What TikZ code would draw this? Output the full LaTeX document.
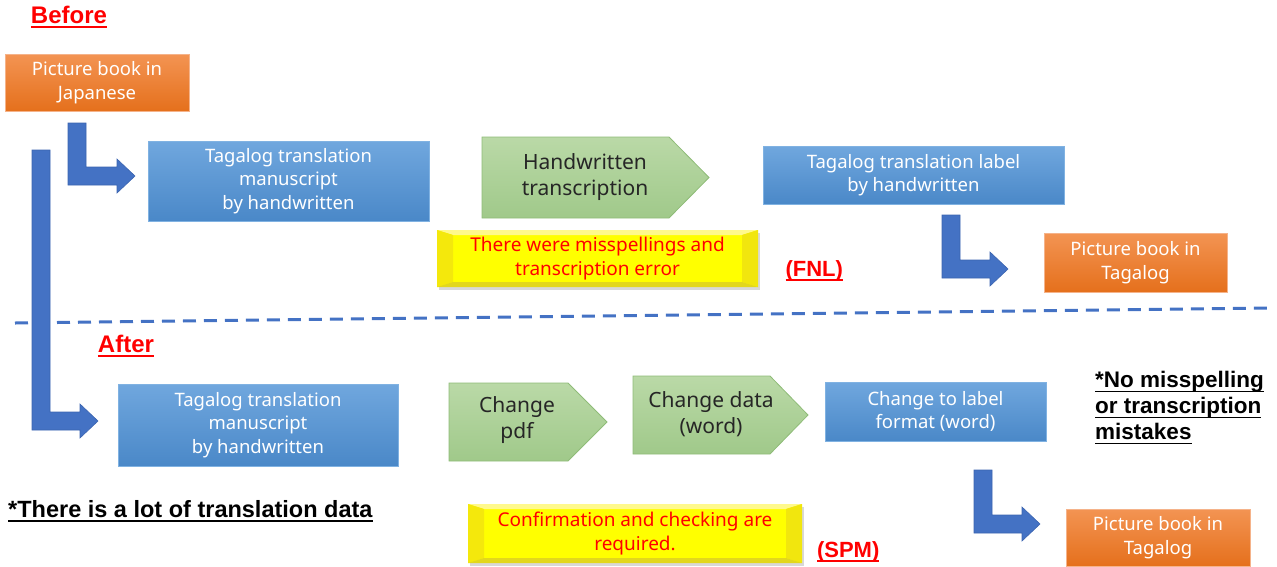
\documentclass[tikz,border=0pt]{standalone}
\usepackage{fontspec}
\setmainfont{Noto Sans}
\newfontfamily\headfont{Liberation Sans}
\usepackage{tikz}
\usetikzlibrary{calc,shadows}

\newcommand{\ulin}[1]{\leavevmode\setbox0\hbox{#1}\rlap{\rule[-4.5pt]{\wd0}{1.5pt}}\box0}

\definecolor{arrowblue}{HTML}{4472C4}
\definecolor{arrowedge}{HTML}{3B64B0}
\definecolor{boxtop}{HTML}{70A7DE}
\definecolor{boxbot}{HTML}{4A88C8}
\definecolor{boxedge}{HTML}{80B2E2}
\definecolor{ortop}{HTML}{F39453}
\definecolor{orbot}{HTML}{E5701C}
\definecolor{oredge}{HTML}{F5B38A}
\definecolor{grtop}{HTML}{BAD9A7}
\definecolor{grbot}{HTML}{A0C98A}
\definecolor{gredge}{HTML}{8FBC78}
\definecolor{warnred}{HTML}{FF0000}
\definecolor{warnfill}{HTML}{FFFF00}

\tikzset{
  bluebox/.style={rectangle, top color=boxtop, bottom color=boxbot, draw=boxedge, line width=0.8pt,
    text=white, font=\fontsize{18.5}{23.5}\selectfont, align=center, inner sep=0pt},
  orangebox/.style={rectangle, top color=ortop, bottom color=orbot, draw=oredge, line width=0.8pt,
    text=white, font=\fontsize{18.5}{23.5}\selectfont, align=center, inner sep=0pt},
  greenstep/.style={top color=grtop, bottom color=grbot, draw=gredge, line width=0.8pt},
  steptext/.style={font=\fontsize{21}{26.5}\selectfont, text=black!85, align=center, inner sep=0pt},
  warnbox/.style={rectangle, fill=warnfill, text=warnred, font=\fontsize{19}{24}\selectfont,
    align=center, inner sep=0pt,
    drop shadow={shadow xshift=1.5pt, shadow yshift=-2.5pt, fill=black!30},
    path picture={
      \fill[yellow!45!white] (path picture bounding box.north west) -- (path picture bounding box.north east)
        -- ++(-16pt,-5pt) -- ($(path picture bounding box.north west)+(16pt,-5pt)$) -- cycle;
      \fill[yellow!95!black] (path picture bounding box.north west) -- ++(16pt,-5pt)
        -- ($(path picture bounding box.south west)+(16pt,5pt)$) -- (path picture bounding box.south west) -- cycle;
      \fill[yellow!94!black] (path picture bounding box.north east) -- ++(-16pt,-5pt)
        -- ($(path picture bounding box.south east)+(-16pt,5pt)$) -- (path picture bounding box.south east) -- cycle;
      \fill[yellow!87!black] (path picture bounding box.south west) -- (path picture bounding box.south east)
        -- ++(-16pt,5pt) -- ($(path picture bounding box.south west)+(16pt,5pt)$) -- cycle;
    }},
  heading/.style={font=\headfont\bfseries\fontsize{24}{28}\selectfont, text=warnred, inner sep=0pt},
  tag/.style={font=\headfont\bfseries\fontsize{22}{26}\selectfont, text=warnred, inner sep=0pt},
  remark/.style={font=\headfont\bfseries\fontsize{22.5}{26}\selectfont, align=left, inner sep=0pt},
  blockarrow/.style={fill=arrowblue, draw=arrowedge, line width=0.6pt},
  divider/.style={draw=arrowblue, line width=3pt, dash pattern=on 13pt off 8pt}
}

% stem left, stem top, shaft bottom, tip
\newcommand{\bentarrow}[4]{%
  \filldraw[blockarrow] (#1,#2) -- ({#1+18},#2) -- ({#1+18},{#3-18}) -- ({#4-18},{#3-18})
    -- ({#4-18},{#3-26}) -- (#4,{#3-9}) -- ({#4-18},{#3+8}) -- ({#4-18},#3) -- (#1,#3) -- cycle;}

\begin{document}
\begin{tikzpicture}[x=1pt, y=-1pt]
    \useasboundingbox (0,0) rectangle (1277,566);

    \node[heading] (before) at (69,17) {\ulin{Before}};

    \node[orangebox, minimum width=184pt, minimum height=57pt] (jp) at (97,82.5) {Picture book in\\Japanese};

    \node[bluebox, minimum width=281pt, minimum height=80pt] (manu) at (288.5,181) {Tagalog translation\\manuscript\\by handwritten};

    \path[greenstep] (482,137) -- (669,137) -- (709,177.5) -- (669,218) -- (482,218) -- cycle;
    \node[steptext] (hw) at (585,177) {Handwritten\\transcription};

    \node[warnbox, minimum width=321pt, minimum height=57pt] (miss) at (597.5,258.5) {There were misspellings and\\transcription error};

    \node[tag] (fnl) at ($(miss.east)+(56,12)$) {\ulin{(FNL)}};

    \node[bluebox, minimum width=301pt, minimum height=58pt] (label) at (913.5,175) {Tagalog translation label\\by handwritten};

    \node[orangebox, minimum width=183pt, minimum height=59pt] (tgbefore) at (1135.5,262.5) {Picture book in\\Tagalog};

    \bentarrow{68}{123}{185}{135}
    \bentarrow{32}{150}{430}{98}
    \bentarrow{942}{215}{278}{1008}

    \coordinate (divL) at (15,323);
    \coordinate (divR) at (1270,308);
    \draw[divider] (divL) -- (divR);

    \node[heading] (after) at (126,346) {\ulin{After}};

    \node[bluebox, minimum width=280pt, minimum height=82pt] (manu2) at (258,425) {Tagalog translation\\manuscript\\by handwritten};

    \node[remark, font=\headfont\bfseries\fontsize{23.5}{26}\selectfont, anchor=west] (lots) at (8,511) {\ulin{*There is a lot of translation data}};

    \path[greenstep] (449,383) -- (568,383) -- (607,422) -- (568,461) -- (449,461) -- cycle;
    \node[steptext] (pdf) at (517,420) {Change\\pdf};

    \path[greenstep] (633,376) -- (770,376) -- (808,415) -- (770,454) -- (633,454) -- cycle;
    \node[steptext] (word) at (711,414) {Change data\\(word)};

    \node[bluebox, minimum width=221pt, minimum height=59pt] (fmt) at (935.5,411.5) {Change to label\\format (word)};

    \node[remark, anchor=north west] (nomiss) at (1095,371) {\ulin{*No misspelling}\\\ulin{or transcription}\\\ulin{mistakes}};

    \node[warnbox, minimum width=334pt, minimum height=59pt] (check) at (635,533.5) {Confirmation and checking are\\required.};

    \node[tag] (spm) at ($(check.east)+(46,18)$) {\ulin{(SPM)}};

    \bentarrow{974}{470}{533}{1040}

    \node[orangebox, minimum width=184pt, minimum height=57pt] (tgafter) at (1158,537.5) {Picture book in\\Tagalog};

\end{tikzpicture}
\end{document}
